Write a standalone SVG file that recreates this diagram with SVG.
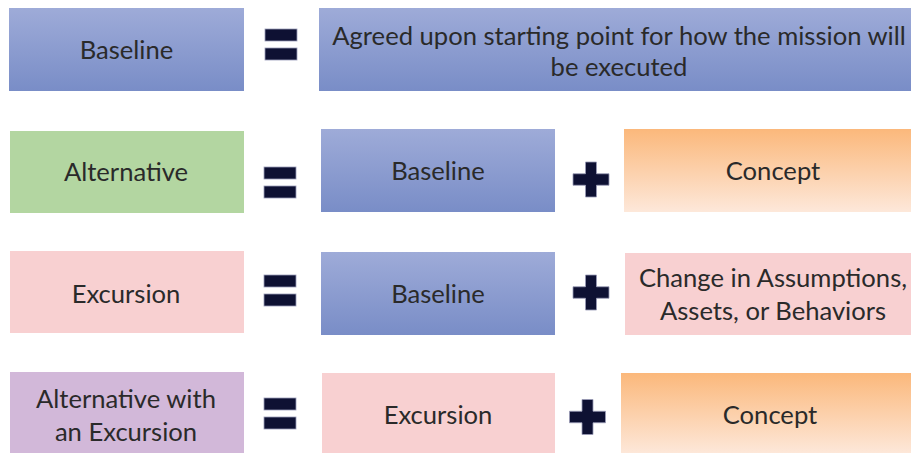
<svg xmlns="http://www.w3.org/2000/svg" width="911" height="453" viewBox="0 0 911 453">
  <defs>
    <linearGradient id="gBlue" x1="0" y1="0" x2="0" y2="1">
      <stop offset="0" stop-color="#9eabd8"/>
      <stop offset="1" stop-color="#798dc7"/>
    </linearGradient>
    <linearGradient id="gOrange" x1="0" y1="0" x2="0" y2="1">
      <stop offset="0" stop-color="#fbb87b"/>
      <stop offset="1" stop-color="#fde8da"/>
    </linearGradient>
    <g id="equals">
      <rect x="0" y="0" width="32" height="12"/>
      <rect x="0" y="19" width="32" height="12"/>
    </g>
    <path id="plus" d="M-5.5,-17.5 H5.5 V-5.75 H18 V5.75 H5.5 V17.5 H-5.5 V5.75 H-18 V-5.75 H-5.5 Z"/>
  </defs>
  <style>
    .blue { fill: url(#gBlue); }
    .orange { fill: url(#gOrange); }
    .green { fill: #b3d6a1; }
    .pink { fill: #f8d0d1; }
    .purple { fill: #d2b8d9; }
    text { font-family: Lato, "Liberation Sans", sans-serif; font-size: 25.6px; fill: #2a2a2a; text-anchor: middle; }
    .op { fill: #0e1133; stroke: #9a9cb8; stroke-width: 0.8; }
  </style>
  <rect width="911" height="453" fill="#ffffff"/>

  <!-- Row 1: Baseline definition -->
  <g id="baseline-term">
    <rect class="blue" x="9" y="8" width="235" height="83"/>
    <text x="126.5" y="58.5">Baseline</text>
  </g>
  <g id="baseline-definition">
    <rect class="blue" x="319" y="8" width="600" height="83"/>
    <text x="619" y="44.5">Agreed upon starting point for how the mission will</text>
    <text x="619" y="75.5">be executed</text>
  </g>

  <!-- Row 2: Alternative -->
  <g id="alternative-term">
    <rect class="green" x="10" y="131" width="234" height="82"/>
    <text x="126" y="180.5">Alternative</text>
  </g>
  <g id="alternative-baseline">
    <rect class="blue" x="321" y="129" width="234" height="83"/>
    <text x="438" y="179.5">Baseline</text>
  </g>
  <g id="alternative-concept">
    <rect class="orange" x="624" y="129" width="300" height="83"/>
    <text x="773" y="179.5">Concept</text>
  </g>

  <!-- Row 3: Excursion -->
  <g id="excursion-term">
    <rect class="pink" x="10" y="251" width="234" height="82"/>
    <text x="126" y="302.5">Excursion</text>
  </g>
  <g id="excursion-baseline">
    <rect class="blue" x="321" y="252" width="234" height="83"/>
    <text x="438" y="302.5">Baseline</text>
  </g>
  <g id="excursion-change">
    <rect class="pink" x="625" y="253" width="300" height="82"/>
    <text x="773" y="286.5">Change in Assumptions,</text>
    <text x="773" y="319.5">Assets, or Behaviors</text>
  </g>

  <!-- Row 4: Alternative with an Excursion -->
  <g id="alt-excursion-term">
    <rect class="purple" x="10" y="372" width="234" height="82"/>
    <text x="126" y="407.5">Alternative with</text>
    <text x="126" y="440.5">an Excursion</text>
  </g>
  <g id="alt-excursion-excursion">
    <rect class="pink" x="322" y="373" width="233" height="81"/>
    <text x="438" y="423.5">Excursion</text>
  </g>
  <g id="alt-excursion-concept">
    <rect class="orange" x="621" y="373" width="300" height="81"/>
    <text x="770" y="423.5">Concept</text>
  </g>

  <!-- Operators between the terms -->
  <g id="operators" class="op">
    <use href="#equals" transform="translate(265,29)"/>
    <use href="#equals" transform="translate(264,167)"/>
    <use href="#equals" transform="translate(264,275)"/>
    <use href="#equals" transform="translate(264,398)"/>
    <use href="#plus" transform="translate(591,179.5)"/>
    <use href="#plus" transform="translate(591,292.5)"/>
    <use href="#plus" transform="translate(587.5,417)"/>
  </g>
</svg>
